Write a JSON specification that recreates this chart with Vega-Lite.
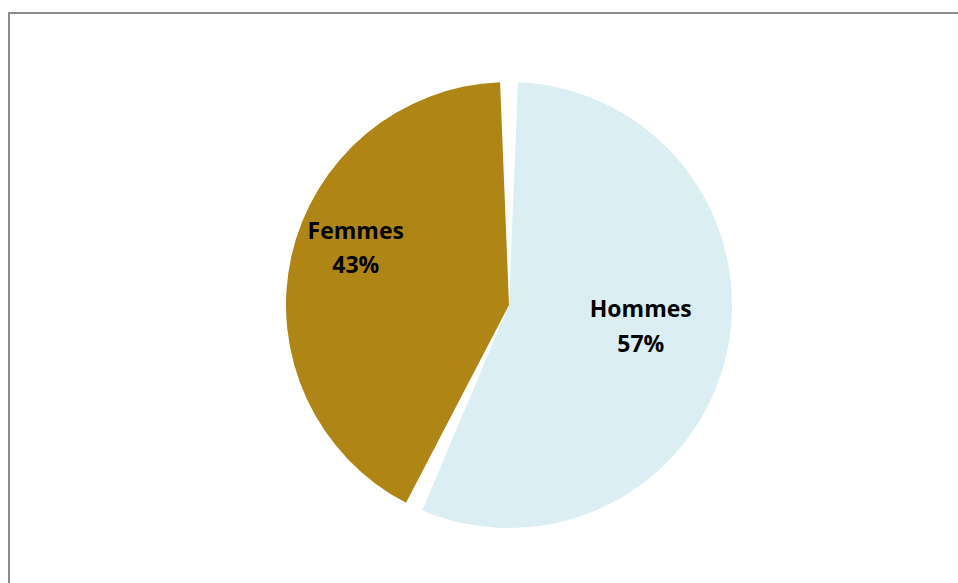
{
  "$schema": "https://vega.github.io/schema/vega-lite/v6.json",
  "width": 1000,
  "height": 584,
  "autosize": "none",
  "padding": {"left": 9, "top": 13, "right": 0, "bottom": 0},
  "background": "white",
  "view": {"stroke": "#8c8c8c", "strokeWidth": 2, "fill": "white"},
  "config": {
    "view": {"stroke": "#8c8c8c", "strokeWidth": 2},
    "text": {"font": "Open Sans", "fontWeight": "bold", "fontSize": 23, "color": "#000000"}
  },
  "data": {"values": [
    {"sexe": "Hommes", "part": 0.57},
    {"sexe": "Femmes", "part": 0.43}
  ]},
  "encoding": {
    "theta": {"field": "part", "type": "quantitative", "stack": true},
    "order": {"field": "part", "type": "quantitative", "sort": "descending"}
  },
  "layer": [
    {
      "mark": {"type": "arc", "outerRadius": 223, "padAngle": 0.08, "stroke": null},
      "encoding": {
        "color": {"field": "sexe", "type": "nominal", "legend": null,
          "scale": {"domain": ["Hommes", "Femmes"], "range": ["#DBEEF4", "#AF8516"]}}
      }
    },
    {
      "mark": {"type": "text", "radius": 157, "dy": -32, "baseline": "alphabetic", "align": "center"},
      "encoding": {
        "detail": {"field": "sexe"},
        "text": {"field": "sexe"},
        "opacity": {"condition": {"test": "datum.sexe === 'Femmes'", "value": 1}, "value": 0}
      }
    },
    {
      "mark": {"type": "text", "radius": 157, "dy": 2, "baseline": "alphabetic", "align": "center"},
      "encoding": {
        "detail": {"field": "sexe"},
        "text": {"field": "part", "type": "quantitative", "format": ".0%"},
        "opacity": {"condition": {"test": "datum.sexe === 'Femmes'", "value": 1}, "value": 0}
      }
    },
    {
      "mark": {"type": "text", "radius": 135, "dy": -17, "baseline": "alphabetic", "align": "center"},
      "encoding": {
        "detail": {"field": "sexe"},
        "text": {"field": "sexe"},
        "opacity": {"condition": {"test": "datum.sexe === 'Hommes'", "value": 1}, "value": 0}
      }
    },
    {
      "mark": {"type": "text", "radius": 135, "dy": 18, "baseline": "alphabetic", "align": "center"},
      "encoding": {
        "detail": {"field": "sexe"},
        "text": {"field": "part", "type": "quantitative", "format": ".0%"},
        "opacity": {"condition": {"test": "datum.sexe === 'Hommes'", "value": 1}, "value": 0}
      }
    }
  ]
}
